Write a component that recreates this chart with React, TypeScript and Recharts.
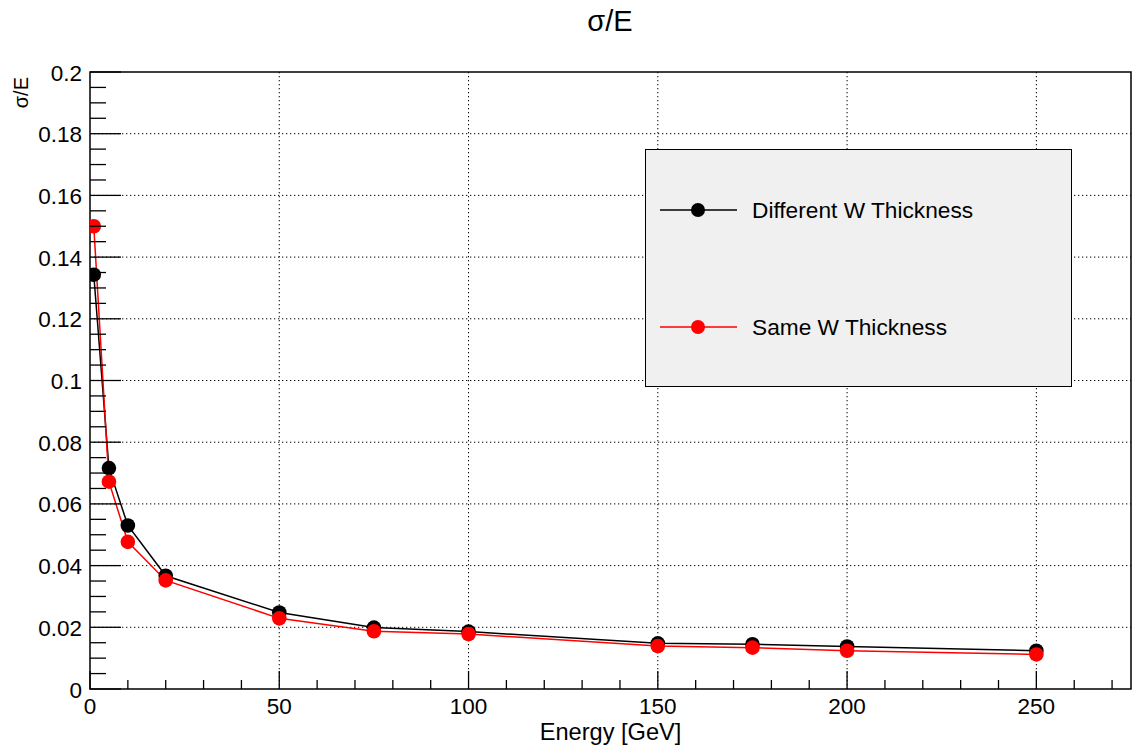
import { LineChart, Line, XAxis, YAxis, CartesianGrid, ReferenceArea, Legend } from 'recharts'

const energies = [1, 5, 10, 20, 50, 75, 100, 150, 175, 200, 250]
const diffThickness = [0.1343, 0.0716, 0.053, 0.0367, 0.0248, 0.0199, 0.0186, 0.0148, 0.0145, 0.0138, 0.0124]
const sameThickness = [0.15, 0.0672, 0.0477, 0.0352, 0.0229, 0.0187, 0.0178, 0.0139, 0.0134, 0.0124, 0.0112]

const xMajorTicks = [0, 50, 100, 150, 200, 250]
const yMajorTicks = [0, 0.02, 0.04, 0.06, 0.08, 0.1, 0.12, 0.14, 0.16, 0.18, 0.2]
const xGridValues = [50, 100, 150, 200, 250]
const yGridValues = [0.02, 0.04, 0.06, 0.08, 0.1, 0.12, 0.14, 0.16, 0.18]

// minor tick positions (10 GeV / 0.005 steps)
const xTicks = Array.from({ length: 28 }, (_, i) => i * 10)
const yTicks = Array.from({ length: 41 }, (_, i) => Math.round(i * 5) / 1000)

const data = energies.map((e, i) => ({ e, diff: diffThickness[i], same: sameThickness[i] }))

const FONT = '"Liberation Sans", Arial, Helvetica, sans-serif'

const isIn = (list: number[], v: number) => list.some(t => Math.abs(t - v) < 1e-9)

const XTick = (props: any) => {
  const { x, y, payload } = props
  const major = isIn(xMajorTicks, payload.value)
  return (
    <g>
      <line x1={x} x2={x} y1={y} y2={y - (major ? 18 : 9)} stroke="#000" strokeWidth={1.3} />
      {major && (
        <text x={x} y={y + 25} textAnchor="middle" fontSize={22.5} fill="#000" fontFamily={FONT}>
          {payload.value}
        </text>
      )}
    </g>
  )
}

const YTick = (props: any) => {
  const { x, y, payload } = props
  const major = isIn(yMajorTicks, payload.value)
  const ax = x + 8
  return (
    <g>
      <line x1={ax} x2={ax + (major ? 31 : 16)} y1={y} y2={y} stroke="#000" strokeWidth={1.3} />
      {major && (
        <text x={x} y={y + 8.5} textAnchor="end" fontSize={22.5} fill="#000" fontFamily={FONT}>
          {String(Number(payload.value.toFixed(3)))}
        </text>
      )}
    </g>
  )
}

const LegendBox = (props: any) => {
  const { payload } = props
  return (
    <div
      style={{
        width: 427,
        height: 238,
        boxSizing: 'border-box',
        background: '#f0f0f0',
        border: '1.5px solid #000',
        position: 'relative',
        fontFamily: FONT,
      }}
    >
      {(payload || []).map((p: any, i: number) => (
        <div key={p.value} style={{ position: 'absolute', left: 0, top: 60 + i * 117 - 12, height: 24, display: 'flex', alignItems: 'center' }}>
          <svg width={92} height={24} style={{ marginLeft: 14 }}>
            <line x1={0} x2={77} y1={12} y2={12} stroke={p.color} strokeWidth={1.5} />
            <circle cx={38} cy={12} r={7} fill={p.color} />
          </svg>
          <span style={{ fontSize: 22.7, color: '#000', marginLeft: 0 }}>{p.value}</span>
        </div>
      ))}
    </div>
  )
}

export default function App() {
  return (
    <div style={{ position: 'absolute', left: 0, top: 0, width: 1133, height: 749, background: '#fff', fontFamily: FONT }}>
      <div style={{ position: 'absolute', left: 0, width: 1220, top: 5, textAlign: 'center', fontSize: 29, color: '#000' }}>σ/E</div>
      <LineChart
        width={1133}
        height={749}
        data={data}
        margin={{ top: 72, right: 2, bottom: 0, left: 0 }}
        style={{ fontFamily: FONT }}
      >
        <CartesianGrid
          stroke="#000"
          strokeDasharray="1.3 2.7"
          verticalValues={xGridValues}
          horizontalValues={yGridValues}
        />
        <XAxis
          dataKey="e"
          type="number"
          domain={[0, 275]}
          ticks={xTicks}
          interval={0}
          tick={<XTick />}
          tickSize={0}
          tickMargin={0}
          tickLine={false}
          axisLine={false}
          height={60}
          allowDataOverflow
          label={(p: any) => {
            const vb = p.viewBox
            return (
              <text x={vb.x + vb.width / 2} y={vb.y + 51} textAnchor="middle" fontSize={23.6} fill="#000" fontFamily={FONT}>
                Energy [GeV]
              </text>
            )
          }}
        />
        <YAxis
          type="number"
          domain={[0, 0.2]}
          ticks={yTicks}
          interval={0}
          tick={<YTick />}
          tickSize={0}
          tickMargin={8}
          tickLine={false}
          axisLine={false}
          width={90}
          allowDataOverflow
          label={(p: any) => {
            const vb = p.viewBox
            return (
              <text
                x={28}
                y={vb.y + 5}
                transform={`rotate(-90, 28, ${vb.y + 5})`}
                textAnchor="end"
                fontSize={20}
                fill="#000"
                fontFamily={FONT}
              >
                σ/E
              </text>
            )
          }}
        />
        <ReferenceArea x1={0} x2={275} y1={0} y2={0.2} fill="none" fillOpacity={0} stroke="#000" strokeWidth={1.5} />
        <Legend
          layout="vertical"
          align="center"
          verticalAlign="middle"
          content={<LegendBox />}
          wrapperStyle={{ position: 'absolute', left: 645, top: 149, width: 427, height: 238 }}
        />
        <Line
          dataKey="diff"
          name="Different W Thickness"
          stroke="#000"
          strokeWidth={1.5}
          dot={{ r: 7.3, fill: '#000', stroke: '#000', strokeWidth: 0 }}
          activeDot={false}
          isAnimationActive={false}
        />
        <Line
          dataKey="same"
          name="Same W Thickness"
          stroke="#ff0000"
          strokeWidth={1.5}
          dot={{ r: 7.3, fill: '#ff0000', stroke: '#ff0000', strokeWidth: 0 }}
          activeDot={false}
          isAnimationActive={false}
        />
      </LineChart>
    </div>
  )
}
